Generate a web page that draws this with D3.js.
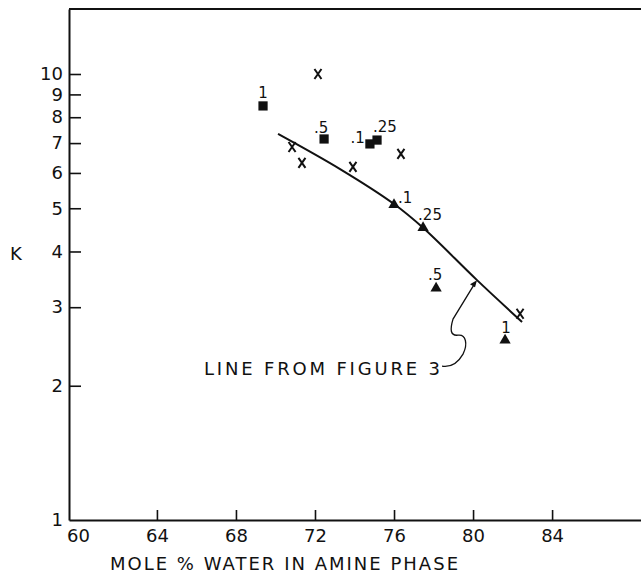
<!DOCTYPE html>
<html>
<head>
<meta charset="utf-8">
<script src="https://cdn.jsdelivr.net/npm/d3@7"></script>
<style>
  body { margin: 0; background: #fff; }
  svg { display: block; }
  text { font-family: "DejaVu Sans", "Liberation Sans", Arial, sans-serif; fill: #111; }
</style>
</head>
<body>
<div id="chart"></div>
<script>
'use strict';

// tick values
var xTickValues = [60, 64, 68, 72, 76, 80, 84];
var yTickValues = [1, 2, 3, 4, 5, 6, 7, 8, 9, 10];

// squares
var squareX = [69.37, 72.46, 74.78, 75.14];
var squareK = [8.48, 7.15, 6.97, 7.11];
var squareLabels = ["1", ".5", ".1", ".25"];

// triangles
var triangleX = [76.0, 77.47, 78.13, 81.62];
var triangleK = [5.09, 4.52, 3.31, 2.53];
var triangleLabels = [".1", ".25", ".5", "1"];

// crosses
var crossX = [72.15, 70.84, 71.34, 73.92, 76.35, 82.38];
var crossK = [10.0, 6.86, 6.32, 6.19, 6.62, 2.90];

// line from figure 3
var lineX = [70.13, 73.27, 76.0, 77.47, 80.2, 82.48];
var lineK = [7.34, 6.12, 5.11, 4.52, 3.45, 2.78];

var xTitle = "MOLE % WATER IN AMINE PHASE";
var yTitle = "K";
var noteText = "LINE FROM FIGURE 3";
var noteAt = 4; // index on the line where the arrow points

// label placement (dx, dy, anchor) for each point label
var squareLabelPos = [[0, -8, "middle"], [-3, -6, "middle"], [-5, -1, "end"], [-4, -8, "start"]];
var triangleLabelPos = [[4, -2, "start"], [-5, -8, "start"], [-1, -8, "middle"], [1, -7, "middle"]];

var W = 641, H = 577;
var svg = d3.select("#chart").append("svg").attr("width", W).attr("height", H);

var x = d3.scaleLinear().domain([59.55, 88.5]).range([69, 641]);
var y = d3.scaleLog().domain([1, 10]).range([520, 74]);
var yTop = y.invert(9);
y.domain([1, yTop]).range([520, 9]);

// axes
var xAxis = d3.axisBottom(x).tickValues(xTickValues).tickSizeInner(-10).tickSizeOuter(0)
  .tickPadding(9).tickFormat(d3.format("d"));
var gx = svg.append("g").attr("transform", "translate(0,520)").call(xAxis);
gx.selectAll("line").attr("stroke", "#111").attr("stroke-width", 1.6);
gx.select(".domain").attr("stroke", "#111").attr("stroke-width", 2);
gx.selectAll(".tick").filter(function(d) { return d === 60; }).select("line").remove();
gx.selectAll("text").attr("font-size", 18).attr("fill", "#111")
  .attr("font-family", "DejaVu Sans, sans-serif");

var yAxis = d3.axisLeft(y).tickValues(yTickValues).tickSizeInner(-12).tickSizeOuter(0)
  .tickPadding(6).tickFormat(d3.format("d"));
var gy = svg.append("g").attr("transform", "translate(69,0)").call(yAxis);
gy.selectAll("line").attr("stroke", "#111").attr("stroke-width", 1.6);
gy.select(".domain").attr("stroke", "#111").attr("stroke-width", 2);
gy.selectAll(".tick").filter(function(d) { return d === 1; }).select("line").remove();
gy.selectAll("text").attr("font-size", 18).attr("fill", "#111")
  .attr("font-family", "DejaVu Sans, sans-serif");

// top border
svg.append("line")
  .attr("x1", x.range()[0]).attr("x2", x.range()[1])
  .attr("y1", y(yTop)).attr("y2", y(yTop))
  .attr("stroke", "#111").attr("stroke-width", 2);

// titles
svg.append("text").attr("x", 110).attr("y", 570)
  .attr("font-size", 18).attr("textLength", 348).attr("lengthAdjust", "spacing")
  .text(xTitle);
svg.append("text").attr("x", 10).attr("y", 260).attr("font-size", 18).text(yTitle);

// line
var lineData = lineX.map(function(v, i) { return [v, lineK[i]]; });
svg.append("path")
  .datum(lineData)
  .attr("fill", "none").attr("stroke", "#111").attr("stroke-width", 2)
  .attr("d", d3.line().x(function(d) { return x(d[0]); }).y(function(d) { return y(d[1]); })
    .curve(d3.curveCatmullRom));

// squares
var sq = svg.append("g").selectAll("g").data(squareX).enter().append("g")
  .attr("transform", function(d, i) { return "translate(" + x(d) + "," + y(squareK[i]) + ")"; });
sq.append("path").attr("d", d3.symbol().type(d3.symbolSquare).size(85)).attr("fill", "#111");
sq.append("text")
  .attr("x", function(d, i) { return squareLabelPos[i][0]; })
  .attr("y", function(d, i) { return squareLabelPos[i][1]; })
  .attr("text-anchor", function(d, i) { return squareLabelPos[i][2]; })
  .attr("font-size", 15)
  .text(function(d, i) { return squareLabels[i]; });

// triangles
var tr = svg.append("g").selectAll("g").data(triangleX).enter().append("g")
  .attr("transform", function(d, i) { return "translate(" + x(d) + "," + y(triangleK[i]) + ")"; });
tr.append("path").attr("d", d3.symbol().type(d3.symbolTriangle).size(55)).attr("fill", "#111");
tr.append("text")
  .attr("x", function(d, i) { return triangleLabelPos[i][0]; })
  .attr("y", function(d, i) { return triangleLabelPos[i][1]; })
  .attr("text-anchor", function(d, i) { return triangleLabelPos[i][2]; })
  .attr("font-size", 15)
  .text(function(d, i) { return triangleLabels[i]; });

// crosses
svg.append("g").selectAll("path").data(crossX).enter().append("path")
  .attr("transform", function(d, i) { return "translate(" + x(d) + "," + y(crossK[i]) + ")"; })
  .attr("d", "M-3.5,-5L3.5,5M3.5,-5L-3.5,5")
  .attr("stroke", "#111").attr("stroke-width", 2).attr("fill", "none");

// annotation with leader arrow
var tx = x(lineX[noteAt]), ty = y(lineK[noteAt]);
var note = svg.append("g").attr("transform", "translate(" + tx + "," + ty + ")");
note.append("path")
  .attr("d", "M-35,86Q-22,88,-14,74C-9,64,-11,54,-19,55C-27,56,-27,49,-24,39L-2,3")
  .attr("fill", "none").attr("stroke", "#111").attr("stroke-width", 1.3);
note.append("path")
  .attr("d", "M0,0L-7,4L-2,7Z")
  .attr("fill", "#111");
note.append("text").attr("x", -37).attr("y", 95).attr("text-anchor", "end")
  .attr("font-size", 18).attr("textLength", 236).attr("lengthAdjust", "spacing")
  .text(noteText);
</script>
</body>
</html>
